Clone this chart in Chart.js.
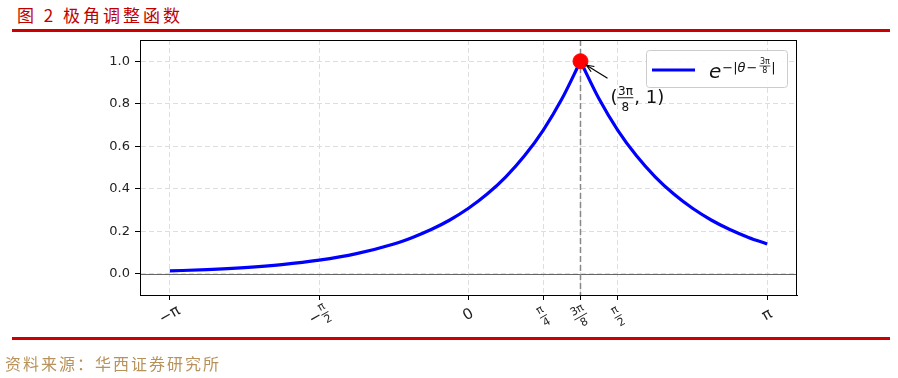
<!DOCTYPE html>
<html>
<head>
<meta charset="utf-8">
<script src="https://cdn.jsdelivr.net/npm/chart.js@4"></script>
<style>
html, body { margin: 0; padding: 0; background: #fff; }
#wrap { position: relative; width: 898px; height: 378px; overflow: hidden; }
#title { position: absolute; left: 17px; top: 2px; font: 17px "Noto Sans CJK SC"; color: #c00000; letter-spacing: 3px; white-space: nowrap; }
.rule { position: absolute; left: 12px; width: 878px; height: 3px; background: #cc0000; }
#src { position: absolute; left: 5px; top: 351px; font: 16px "Noto Sans CJK SC"; color: #b8925a; letter-spacing: 2px; white-space: nowrap; }
canvas { position: absolute; left: 0; top: 0; }
</style>
</head>
<body>
<div id="wrap">
  <div id="title">图 2 极角调整函数</div>
  <div class="rule" style="top:29px"></div>
  <canvas id="polarChart" width="898" height="378"></canvas>
  <div class="rule" style="top:337px"></div>
  <div id="src">资料来源：华西证券研究所</div>
</div>
<script>
const PI = Math.PI;

// 曲线取样点 (θ, 值) —— 从图上读出
const thetaValues = [-3.1416, -2.7489, -2.3562, -1.9635, -1.5708, -1.1781, -0.7854, -0.5890, -0.3927, -0.1963,
                     0, 0.1963, 0.3927, 0.5890, 0.7854, 0.9817, 1.1781, 1.3744, 1.5708, 1.7671,
                     1.9635, 2.1598, 2.3562, 2.5525, 2.7489, 2.9452, 3.1416];
const curveValues = [0.0133, 0.0197, 0.0292, 0.0432, 0.0640, 0.0948, 0.140, 0.171, 0.208, 0.253,
                     0.308, 0.375, 0.456, 0.555, 0.675, 0.822, 1.0, 0.822, 0.675, 0.555,
                     0.456, 0.375, 0.308, 0.253, 0.208, 0.171, 0.140];
const peakIndex = 16;
const peakPoint = { x: 3 * PI / 8, y: 1 };

// 坐标轴刻度
const xTickValues = [-PI, -PI / 2, 0, PI / 4, 3 * PI / 8, PI / 2, PI];
const xTickLabels = ['-π', '-π/2', '0', 'π/4', '3π/8', 'π/2', 'π'];
const yTickValues = [0, 0.2, 0.4, 0.6, 0.8, 1.0];

const toPoints = (xs, ys) => xs.map((x, i) => ({ x: x, y: ys[i] }));
const leftBranch = toPoints(thetaValues.slice(0, peakIndex + 1), curveValues.slice(0, peakIndex + 1));
const rightBranch = toPoints(thetaValues.slice(peakIndex), curveValues.slice(peakIndex));

const MATH_FONT = '"DejaVu Sans"';

// 分数形式的刻度文字 (旋转 30 度)
function drawTickLabel(ctx, label, x, y) {
    ctx.save();
    ctx.translate(x, y);
    ctx.rotate(-PI / 6);
    ctx.fillStyle = '#222';
    ctx.strokeStyle = '#222';
    ctx.textBaseline = 'middle';
    const neg = label.startsWith('-');
    const body = neg ? label.slice(1) : label;
    const parts = body.split('/');
    if (parts.length === 1) {
        ctx.font = '15px ' + MATH_FONT;
        ctx.textAlign = 'center';
        ctx.fillText((neg ? '−' : '') + body, 0, 0);
    } else {
        ctx.font = '11px ' + MATH_FONT;
        const w = Math.max(ctx.measureText(parts[0]).width, ctx.measureText(parts[1]).width) + 1;
        let fx = 0;
        if (neg) {
            ctx.font = '15px ' + MATH_FONT;
            const mw = ctx.measureText('−').width;
            const start = -(mw + w) / 2;
            ctx.textAlign = 'left';
            ctx.fillText('−', start, 0);
            fx = start + mw + w / 2;
        }
        ctx.font = '11px ' + MATH_FONT;
        ctx.textAlign = 'center';
        ctx.fillText(parts[0], fx, -6.5);
        ctx.fillText(parts[1], fx, 7.5);
        ctx.lineWidth = 0.9;
        ctx.beginPath();
        ctx.moveTo(fx - w / 2, 0.5);
        ctx.lineTo(fx + w / 2, 0.5);
        ctx.stroke();
    }
    ctx.restore();
}

const decorPlugin = {
    id: 'decor',
    beforeDatasetsDraw(chart) {
        const { ctx, chartArea: a, scales: { x, y } } = chart;
        ctx.save();
        // y = 0 的水平线
        const y0 = Math.round(y.getPixelForValue(0)) + 0.5;
        ctx.strokeStyle = '#666';
        ctx.lineWidth = 1;
        ctx.beginPath();
        ctx.moveTo(a.left, y0);
        ctx.lineTo(a.right, y0);
        ctx.stroke();
        // 3π/8 处的竖虚线
        const xp = x.getPixelForValue(peakPoint.x);
        ctx.strokeStyle = '#888';
        ctx.lineWidth = 1.5;
        ctx.setLineDash([6, 3]);
        ctx.beginPath();
        ctx.moveTo(xp, a.top);
        ctx.lineTo(xp, a.bottom);
        ctx.stroke();
        ctx.restore();
    },
    afterDraw(chart) {
        const { ctx, chartArea: a, scales: { x, y } } = chart;
        ctx.save();
        // 边框
        ctx.strokeStyle = '#000';
        ctx.lineWidth = 1;
        ctx.strokeRect(a.left + 0.5, a.top + 0.5, a.right - a.left - 1, a.bottom - a.top);

        // x 轴刻度文字
        xTickValues.forEach((v, i) => {
            const isFrac = xTickLabels[i].includes('/');
            drawTickLabel(ctx, xTickLabels[i], x.getPixelForValue(v), a.bottom + (isFrac ? 21 : 20));
        });

        // 标注 (3π/8, 1)
        const px = x.getPixelForValue(peakPoint.x);
        const py = y.getPixelForValue(peakPoint.y);
        ctx.strokeStyle = '#000';
        ctx.lineWidth = 1.2;
        const tx = px + 27, ty = py + 17, hx = px + 6, hy = py + 4;
        ctx.beginPath();
        ctx.moveTo(tx, ty);
        ctx.lineTo(hx, hy);
        ctx.stroke();
        const ang = Math.atan2(hy - ty, hx - tx);
        ctx.beginPath();
        ctx.moveTo(hx - 8 * Math.cos(ang - 0.4), hy - 8 * Math.sin(ang - 0.4));
        ctx.lineTo(hx, hy);
        ctx.lineTo(hx - 8 * Math.cos(ang + 0.4), hy - 8 * Math.sin(ang + 0.4));
        ctx.stroke();

        ctx.fillStyle = '#111';
        ctx.textBaseline = 'alphabetic';
        ctx.textAlign = 'left';
        let cx = px + 30;
        const base = py + 43;
        ctx.font = '18px ' + MATH_FONT;
        ctx.fillText('(', cx, base - 1);
        cx += ctx.measureText('(').width;
        ctx.font = '12px ' + MATH_FONT;
        const fw = ctx.measureText('3π').width + 1;
        ctx.textAlign = 'center';
        ctx.fillText('3π', cx + fw / 2, base - 9);
        ctx.fillText('8', cx + fw / 2, base + 7);
        ctx.lineWidth = 0.9;
        ctx.beginPath();
        ctx.moveTo(cx, base - 6.5);
        ctx.lineTo(cx + fw, base - 6.5);
        ctx.stroke();
        cx += fw + 1;
        ctx.textAlign = 'left';
        ctx.font = '18px ' + MATH_FONT;
        ctx.fillText(', 1)', cx, base - 1);

        // 图例
        const lx = a.right - 151, ly = a.top + 10, lw = 141, lh = 37;
        ctx.fillStyle = 'rgba(255,255,255,0.85)';
        ctx.strokeStyle = '#ccc';
        ctx.lineWidth = 1;
        ctx.beginPath();
        ctx.roundRect(lx + 0.5, ly + 0.5, lw, lh, 3);
        ctx.fill();
        ctx.stroke();
        ctx.strokeStyle = '#0000ff';
        ctx.lineWidth = 3;
        ctx.beginPath();
        ctx.moveTo(lx + 6, ly + 20);
        ctx.lineTo(lx + 49, ly + 20);
        ctx.stroke();
        ctx.fillStyle = '#111';
        ctx.textAlign = 'left';
        let ex = lx + 63;
        ctx.font = 'italic 20px ' + MATH_FONT;
        ctx.fillText('e', ex, ly + 28);
        ex += ctx.measureText('e').width + 1;
        ctx.font = '13px ' + MATH_FONT;
        ctx.fillText('−|', ex, ly + 22);
        ex += ctx.measureText('−|').width;
        ctx.font = 'italic 13px ' + MATH_FONT;
        ctx.fillText('θ', ex, ly + 22);
        ex += ctx.measureText('θ').width + 1;
        ctx.font = '13px ' + MATH_FONT;
        ctx.fillText('−', ex, ly + 22);
        ex += ctx.measureText('−').width + 2;
        ctx.font = '8px ' + MATH_FONT;
        const sw = ctx.measureText('3π').width + 1;
        ctx.textAlign = 'center';
        ctx.fillText('3π', ex + sw / 2, ly + 14);
        ctx.fillText('8', ex + sw / 2, ly + 23);
        ctx.strokeStyle = '#111';
        ctx.lineWidth = 0.7;
        ctx.beginPath();
        ctx.moveTo(ex, ly + 16);
        ctx.lineTo(ex + sw, ly + 16);
        ctx.stroke();
        ex += sw + 1;
        ctx.textAlign = 'left';
        ctx.font = '13px ' + MATH_FONT;
        ctx.fillText('|', ex, ly + 22);
        ctx.restore();
    }
};

const ctx = document.getElementById('polarChart').getContext('2d');
const polarChart = new Chart(ctx, {
    type: 'line',
    data: {
        datasets: [
            {
                data: [peakPoint],
                showLine: false,
                pointRadius: 7.5,
                pointBackgroundColor: '#ff0000',
                pointBorderColor: '#ff0000',
                order: 0
            },
            {
                data: leftBranch,
                borderColor: '#0000ff',
                borderWidth: 3.2,
                pointRadius: 0,
                cubicInterpolationMode: 'monotone',
                fill: false,
                order: 1
            },
            {
                data: rightBranch,
                borderColor: '#0000ff',
                borderWidth: 3.2,
                pointRadius: 0,
                cubicInterpolationMode: 'monotone',
                fill: false,
                order: 1
            }
        ]
    },
    options: {
        responsive: false,
        animation: false,
        events: [],
        layout: { padding: { top: 40, right: 101, left: 0, bottom: 0 } },
        plugins: {
            legend: { display: false },
            tooltip: { enabled: false }
        },
        scales: {
            x: {
                type: 'linear',
                min: -1.1 * PI,
                max: 1.1 * PI,
                afterBuildTicks: s => { s.ticks = xTickValues.map(v => ({ value: v })); },
                afterFit: s => { s.height = 83; },
                ticks: { display: false },
                grid: { color: '#dedede', lineWidth: 1, tickLength: 5, tickColor: '#000', tickWidth: 1 },
                border: { display: true, color: '#000', width: 1, dash: [5, 3] }
            },
            y: {
                min: -0.1,
                max: 1.1,
                afterBuildTicks: s => { s.ticks = yTickValues.map(v => ({ value: v })); },
                afterFit: s => { s.width = 140; },
                ticks: {
                    callback: v => v.toFixed(1),
                    color: '#222',
                    font: { family: 'DejaVu Sans', size: 13 },
                    padding: 5
                },
                grid: { color: '#dedede', lineWidth: 1, tickLength: 5, tickColor: '#000', tickWidth: 1 },
                border: { display: true, color: '#000', width: 1, dash: [5, 3] }
            }
        }
    },
    plugins: [decorPlugin]
});
</script>
</body>
</html>
